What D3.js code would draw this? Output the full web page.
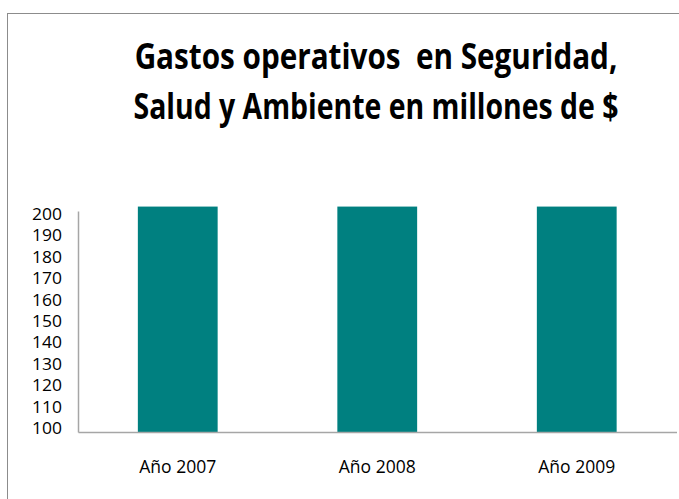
<!DOCTYPE html>
<html>
<head>
<meta charset="utf-8">
<script src="https://cdn.jsdelivr.net/npm/d3@7/dist/d3.min.js"></script>
<style>
  html, body { margin: 0; padding: 0; background: #ffffff; }
  svg { display: block; }
</style>
</head>
<body>
<svg id="chart" width="679" height="499"></svg>
<script>
// Operating costs per year (millions of $)
const categories = ["Año 2007", "Año 2008", "Año 2009"];
const values = [202, 202, 202];
const yTicks = [100, 110, 120, 130, 140, 150, 160, 170, 180, 190, 200];
const titleLines = ["Gastos operativos  en Seguridad,", "Salud y Ambiente en millones de $"];

const svg = d3.select("#chart");
const W = 679, H = 499;

// Outer chart frame
svg.append("rect")
  .attr("x", 7.5).attr("y", 13.5)
  .attr("width", W + 10).attr("height", H + 10)
  .attr("fill", "#ffffff")
  .attr("stroke", "#8c8c8c").attr("stroke-width", 1);

// Title: two centred lines, condensed horizontally to the title box width
const titleWidths = [483, 485];
svg.append("g").selectAll("g")
  .data(titleLines)
  .join("g")
  .attr("transform", (d, i) => `translate(376,${69 + i * 50})`)
  .append("text")
  .attr("text-anchor", "middle")
  .style("white-space", "pre")
  .attr("font-family", "'Open Sans', sans-serif")
  .attr("font-weight", 700)
  .attr("font-size", 35)
  .attr("fill", "#000000")
  .text(d => d)
  .each(function (d, i) {
    const w = this.getComputedTextLength();
    d3.select(this).attr("transform", `scale(${titleWidths[i] / w},1)`);
  });

// Plot area
const x0 = 78, x1 = 676.5;
const yTop = 206, yBase = 432;

const x = d3.scaleBand()
  .domain(categories)
  .range([x0, x1])
  .paddingInner(0.6)
  .paddingOuter(0.3);

const y = d3.scaleLinear()
  .domain([100, 200])
  .range([yBase, 211]);

// Tick labels sit on a slightly tighter spacing than the axis positions
const yLabel = d3.scaleLinear()
  .domain([100, 200])
  .range([428, 214]);

// Bars (clipped to plot area top)
svg.append("clipPath").attr("id", "plotClip")
  .append("rect")
  .attr("x", x0).attr("y", yTop)
  .attr("width", x1 - x0).attr("height", yBase - yTop);

svg.append("g").attr("clip-path", "url(#plotClip)")
  .selectAll("rect")
  .data(values)
  .join("rect")
  .attr("x", (d, i) => x(categories[i]))
  .attr("width", x.bandwidth())
  .attr("y", d => y(d))
  .attr("height", d => y(100) - y(d))
  .attr("fill", "#008080");

// Y axis
const yAxis = d3.axisLeft(y)
  .tickValues(yTicks)
  .tickSize(0)
  .tickPadding(16)
  .tickFormat(d3.format("d"));

const gy = svg.append("g")
  .attr("transform", `translate(${x0},0)`)
  .call(yAxis);
gy.select(".domain").attr("stroke", "#a6a6a6").attr("stroke-width", 1.5);
gy.selectAll(".tick text")
  .attr("font-family", "'Open Sans', sans-serif")
  .attr("font-size", 15.5)
  .attr("fill", "#000000")
  .attr("textLength", 30)
  .attr("lengthAdjust", "spacingAndGlyphs")
  .attr("y", d => yLabel(d) - y(d))
  .attr("dy", "0.36em");

// X axis
const xAxis = d3.axisBottom(x)
  .tickSize(0)
  .tickPadding(28);

const gx = svg.append("g")
  .attr("transform", `translate(0,${yBase})`)
  .call(xAxis);
gx.select(".domain").attr("stroke", "#a6a6a6").attr("stroke-width", 1.5);
gx.selectAll(".tick text")
  .attr("font-family", "'Open Sans', sans-serif")
  .attr("font-size", 18.5)
  .attr("fill", "#000000")
  .attr("textLength", 77)
  .attr("lengthAdjust", "spacingAndGlyphs");
</script>
</body>
</html>
